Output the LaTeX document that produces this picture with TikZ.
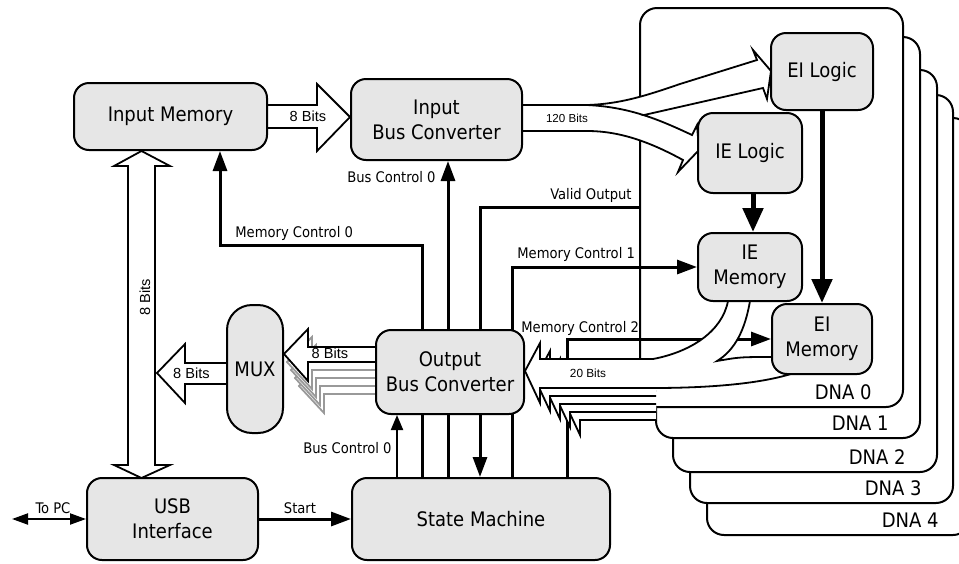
\documentclass[tikz,border=0pt]{standalone}
\usepackage{fontspec}
\setmainfont{DejaVu Sans Condensed}
\newfontfamily\bitfont{Liberation Sans}
\usetikzlibrary{arrows.meta,positioning}
\definecolor{boxgray}{RGB}{230,230,230}
\pgfdeclarelayer{bg}
\pgfsetlayers{bg,main}

\begin{document}
\begin{tikzpicture}[x=0.5pt,y=-0.5pt,>={Triangle[length=10pt,width=7pt]},
    box/.style={draw,line width=1pt,fill=boxgray,rounded corners=7.5pt,align=center,inner sep=0pt,font=\fontsize{10}{12.5}\selectfont},
    dnaframe/.style={draw,line width=1pt,fill=white,rounded corners=8.5pt},
    ctl/.style={line width=1.5pt,->},
    fat/.style={draw,line width=0.9pt,fill=white},
    lbl/.style={inner sep=0pt,font=\fontsize{7.3}{8}\selectfont},
    bits/.style={inner sep=0pt,font=\bitfont\fontsize{7.3}{8}\selectfont}]
    \useasboundingbox (0,0) rectangle (959,563);

    % blocks
    \node[box,minimum width=96.5pt,minimum height=33.5pt] (inmem) at (170.5,116.5) {Input Memory};
    \node[box,minimum width=85.5pt,minimum height=40.5pt] (ibc) at (436.5,119.5) {Input\\Bus Converter};
    \node[box,minimum width=74pt,minimum height=42pt] (obc) at (450,372) {Output\\Bus Converter};
    \node[box,rounded corners=12.5pt,minimum width=28pt,minimum height=64pt] (mux) at (255,369) {MUX};
    \node[box,minimum width=85.5pt,minimum height=41pt] (usb) at (172.5,519) {USB\\Interface};
    \node[box,minimum width=129pt,minimum height=41pt] (sm) at (481,519) {State Machine};
    \node[box,minimum width=51pt,minimum height=38.5pt] (eilog) at (822,71.5) {EI Logic};
    \node[box,minimum width=52pt,minimum height=40pt] (ielog) at (750,153) {IE Logic};
    \node[box,minimum width=52pt,minimum height=34pt] (iemem) at (750,267) {IE\\Memory};
    \node[box,minimum width=50pt,minimum height=35pt] (eimem) at (822,339) {EI\\Memory};
    \coordinate (pc) at (12,519);
    \coordinate (valid) at (640,207);

    \begin{pgfonlayer}{bg}
    % DNA units
    \foreach \i/\l/\t/\r/\b in {4/707/118/970/535,3/690/95/953/503,2/673/70/937/472,1/656/37/920/438,0/640/8/903/407}{
        \draw[dnaframe] (\l,\t) rectangle (\r,\b);
        \node[anchor=base east,inner sep=0pt,font=\fontsize{10}{12}\selectfont] (dna\i) at (\r-31,\b-8) {DNA \i};
    }

    % control lines
    \draw[ctl] (sm.north -| 422,0) |- (220,245) -- (inmem.south -| 220,0);
    \draw[ctl] (sm.north -| 448,0) -- (ibc.south -| 448,0);
    \draw[ctl] (valid) -| (sm.north -| 480,0);
    \draw[ctl] (sm.north -| 512,0) |- (iemem.west);
    \draw[ctl] (sm.north -| 567,0) |- (eimem.west);
    \draw[line width=1pt,->,>={Triangle[length=7.5pt,width=6pt]}] (sm.north -| 397,0) -- (obc.south -| 397,0);
    \draw[ctl] (usb.east) -- (sm.west);
    \draw[line width=1pt,{Triangle[length=8pt,width=5.5pt]}-{Triangle[length=8pt,width=5.5pt]}] (pc) -- (usb.west);
    \draw[line width=2.5pt,->,>={Triangle[length=12pt,width=10pt]}] (ielog.south -| 753,0) -- (iemem.north -| 753,0);
    \draw[line width=2.5pt,->,>={Triangle[length=12pt,width=10pt]}] (eilog.south) -- (eimem.north);

    % buses of the other DNA units
    \foreach \k in {4,3,2,1}{
        \draw[fat] (656,359+8*\k) -- (540+10*\k,359+8*\k) -- (540+10*\k,343+8*\k) -- (525+10*\k,371+8*\k)
            -- (540+10*\k,403+8*\k) -- (540+10*\k,388+8*\k) -- (656,388+8*\k);
        \draw[fat,draw=black!40] (376,347+8*\k) -- (308+4*\k,347+8*\k) -- (308+4*\k,329+8*\k) -- (283+4*\k,354+8*\k)
            -- (308+4*\k,381+8*\k) -- (308+4*\k,362+8*\k) -- (376,362+8*\k);
    }

    % wide buses
    \draw[fat] (inmem.east |- 0,105) -- (317,105) -- (317,84) -- (ibc.west |- 0,117) -- (317,151) -- (317,128) -- (inmem.east |- 0,128);
    \draw[fat] (141.5,151) -- (170,166) -- (155,166) -- (155,465) -- (170,465) -- (141.5,478)
        -- (114,465) -- (128,465) -- (128,166) -- (114,166) -- cycle;
    \draw[fat] (mux.west |- 0,363) -- (185,363) -- (185,344) -- (157,373) -- (185,403) -- (185,384) -- (mux.west |- 0,384);
    \draw[fat] (obc.west |- 0,347) -- (308,347) -- (308,329) -- (mux.east |- 0,354) -- (308,381) -- (308,362) -- (obc.west |- 0,362);
    \draw[fat] (ibc.east |- 0,105) -- (587,105) .. controls (620,104) and (645,96) .. (680,84) -- (757,60) -- (753,50)
        -- (771,71) -- (767,99) -- (763,88) -- (643.6,115.1) .. controls (660.5,120.5) and (676,127.5) .. (692,135)
        -- (697,125) -- (699,150) -- (678,172) -- (683,160) .. controls (650,142) and (620,131) .. (587,131) -- (ibc.east |- 0,131);
    \draw[line width=0.9pt] (587,105) .. controls (608.5,106) and (626.75,109.75) .. (643.6,115.1);
    \draw[fat] (obc.east |- 0,371) -- (540,343) -- (540,359) -- (653,359) .. controls (690,352) and (722,332) .. (728,301)
        -- (750,301) .. controls (745,330) and (735,350) .. (717,361) .. controls (740,357) .. (774,357) -- (785,362)
        -- (797,372) .. controls (760,385) and (700,388) .. (653,388) -- (540,388) -- (540,403) -- cycle;
    \end{pgfonlayer}

    % labels
    \node[bits] at (308,116.5) {8 Bits};
    \node[bits,rotate=90] at (145,297) {8 Bits};
    \node[bits] at (191.5,373) {8 Bits};
    \node[bits] at (330,353) {8 Bits};
    \node[bits,font=\bitfont\fontsize{5.8}{7}\selectfont] at (567,118) {120 Bits};
    \node[bits,font=\bitfont\fontsize{5.9}{7}\selectfont] at (588,373) {20 Bits};
    \node[lbl,anchor=base west] at (235,237) {Memory Control 0};
    \node[lbl,anchor=base east] at (436,182) {Bus Control 0};
    \node[lbl,anchor=base east] at (632,199) {Valid Output};
    \node[lbl,anchor=base west] at (517,258) {Memory Control 1};
    \node[lbl,anchor=base west] at (521,332) {Memory Control 2};
    \node[lbl,anchor=base east] at (392,453) {Bus Control 0};
    \node[lbl,anchor=base] at (53,513) {To PC};
    \node[lbl,anchor=base] at (300,513) {Start};
\end{tikzpicture}
\end{document}
